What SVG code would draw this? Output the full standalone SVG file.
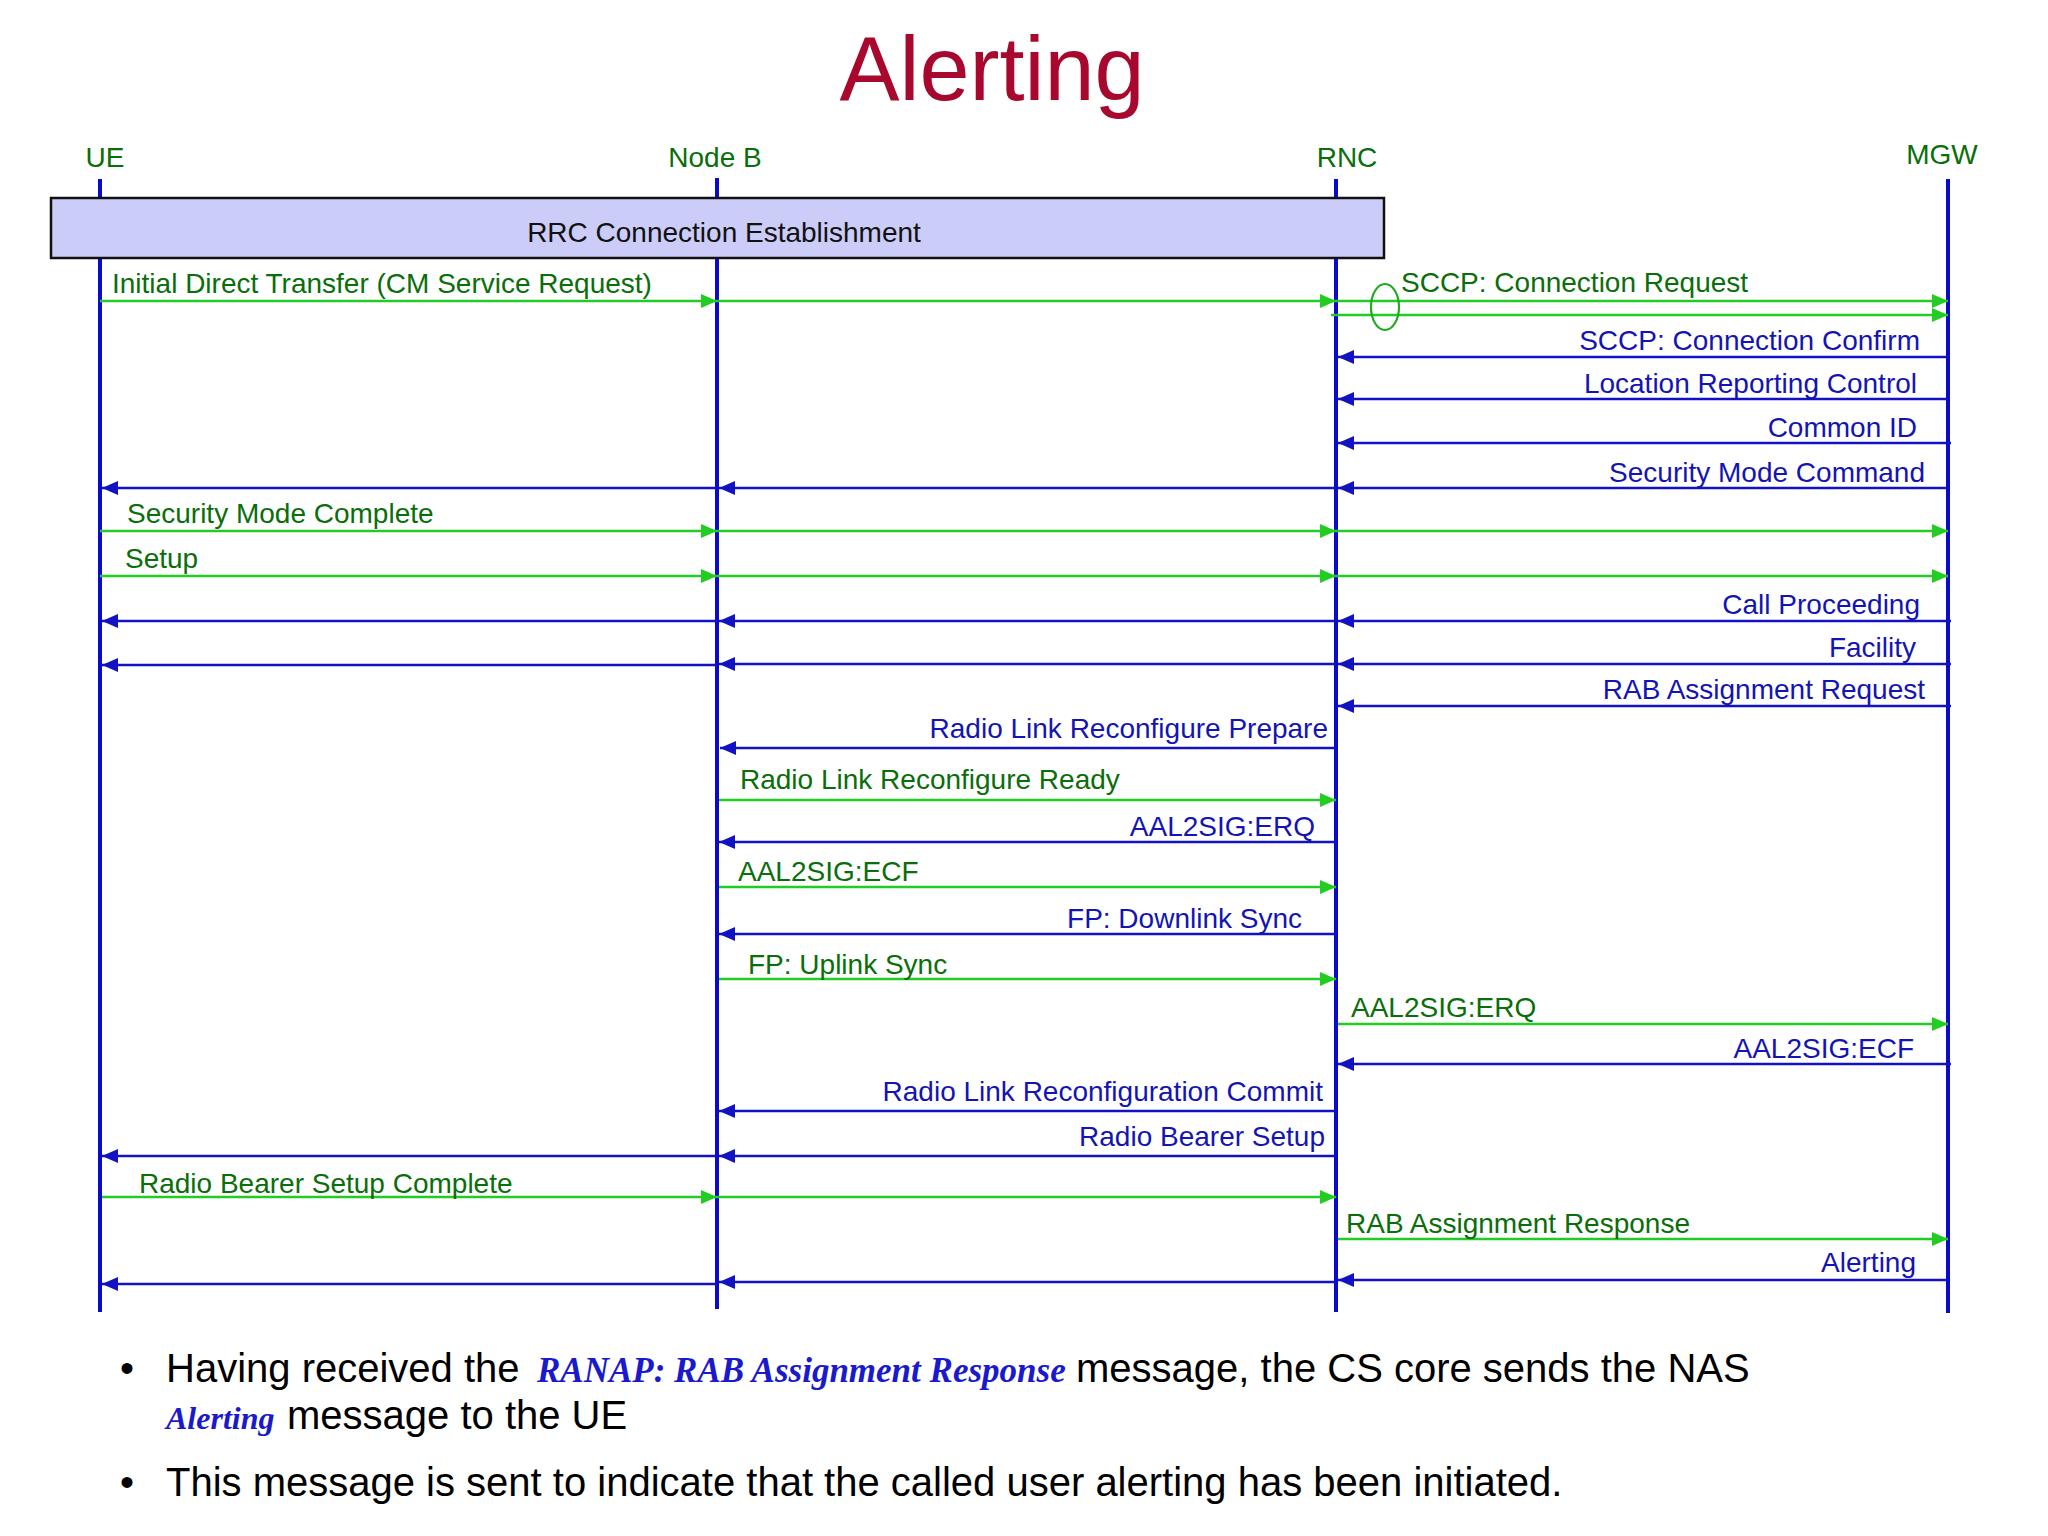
<svg xmlns="http://www.w3.org/2000/svg" width="2048" height="1536" viewBox="0 0 2048 1536">
<style>
text{font-family:"Liberation Sans",Arial,sans-serif}
.title{font-size:90px;fill:#A8082E;text-anchor:middle}
.ll{font-size:28px;fill:#0A6E0A;text-anchor:middle}
.life{stroke:#0A0ACC;stroke-width:4}
.g{stroke:#22CC22;stroke-width:2.6;fill:none;marker-end:url(#ag)}
.b{stroke:#1212C4;stroke-width:2.6;fill:none;marker-end:url(#ab)}
.gt{font-size:28px;fill:#0A6E0A}
.bt{font-size:28px;fill:#1414B4;text-anchor:end}
.body{font-size:40px;fill:#000}
.fancy{font-family:"Liberation Serif","Times New Roman",serif;font-style:italic;font-weight:bold;font-size:35px;fill:#1A1ACC}
</style>
<defs>
<marker id="ag" viewBox="0 0 16 16" markerUnits="userSpaceOnUse" markerWidth="16" markerHeight="16" refX="16" refY="8" orient="auto"><path d="M0,1 L16,8 L0,15 z" fill="#22CC22"/></marker>
<marker id="ab" viewBox="0 0 16 16" markerUnits="userSpaceOnUse" markerWidth="16" markerHeight="16" refX="16" refY="8" orient="auto"><path d="M0,1 L16,8 L0,15 z" fill="#1212C4"/></marker>
</defs>
<rect width="2048" height="1536" fill="#FFFFFF"/>
<text class="title" x="992" y="100">Alerting</text>

<g id="UE"><text class="ll" x="105" y="167">UE</text><line class="life" x1="100" y1="179" x2="100" y2="1312"/></g>
<g id="NodeB"><text class="ll" x="715" y="167">Node B</text><line class="life" x1="717" y1="178" x2="717" y2="1309"/></g>
<g id="RNC"><text class="ll" x="1347" y="167">RNC</text><line class="life" x1="1336" y1="179" x2="1336" y2="1312"/></g>
<g id="MGW"><text class="ll" x="1942" y="164">MGW</text><line class="life" x1="1948" y1="179" x2="1948" y2="1313"/></g>

<g id="RRC"><rect x="51" y="198" width="1333" height="60" fill="#CCCCF8" stroke="#111" stroke-width="2.5"/><text x="724" y="242" font-size="28" fill="#111" text-anchor="middle">RRC Connection Establishment</text></g>

<g id="connectors">
<line class="g" x1="100" y1="301" x2="717" y2="301"/>
<line class="g" x1="717" y1="301" x2="1336" y2="301"/>
<line class="g" x1="1336" y1="301" x2="1948" y2="301"/>
<line class="g" x1="1331" y1="315" x2="1948" y2="315"/>
<ellipse cx="1385" cy="307" rx="14" ry="23" fill="none" stroke="#22AA22" stroke-width="2.2"/>

<line class="b" x1="1948" y1="357" x2="1338" y2="357"/>
<line class="b" x1="1948" y1="399" x2="1338" y2="399"/>
<line class="b" x1="1951" y1="443" x2="1338" y2="443"/>
<line class="b" x1="1948" y1="488" x2="1338" y2="488"/>
<line class="b" x1="1336" y1="488" x2="719" y2="488"/>
<line class="b" x1="717" y1="488" x2="102" y2="488"/>

<line class="g" x1="100" y1="531" x2="717" y2="531"/>
<line class="g" x1="717" y1="531" x2="1336" y2="531"/>
<line class="g" x1="1336" y1="531" x2="1948" y2="531"/>
<line class="g" x1="100" y1="576" x2="717" y2="576"/>
<line class="g" x1="717" y1="576" x2="1336" y2="576"/>
<line class="g" x1="1336" y1="576" x2="1948" y2="576"/>

<line class="b" x1="1951" y1="621" x2="1338" y2="621"/>
<line class="b" x1="1336" y1="621" x2="719" y2="621"/>
<line class="b" x1="717" y1="621" x2="102" y2="621"/>
<line class="b" x1="1951" y1="664" x2="1338" y2="664"/>
<line class="b" x1="1336" y1="664" x2="719" y2="664"/>
<line class="b" x1="717" y1="665" x2="102" y2="665"/>
<line class="b" x1="1951" y1="706" x2="1338" y2="706"/>

<line class="b" x1="1336" y1="748" x2="720" y2="748"/>
<line class="g" x1="719" y1="800" x2="1336" y2="800"/>
<line class="b" x1="1336" y1="842" x2="719" y2="842"/>
<line class="g" x1="719" y1="887" x2="1336" y2="887"/>
<line class="b" x1="1336" y1="934" x2="719" y2="934"/>
<line class="g" x1="719" y1="979" x2="1336" y2="979"/>
<line class="g" x1="1338" y1="1024" x2="1948" y2="1024"/>
<line class="b" x1="1951" y1="1064" x2="1338" y2="1064"/>
<line class="b" x1="1336" y1="1111" x2="719" y2="1111"/>
<line class="b" x1="1336" y1="1156" x2="719" y2="1156"/>
<line class="b" x1="717" y1="1156" x2="102" y2="1156"/>
<line class="g" x1="102" y1="1197" x2="717" y2="1197"/>
<line class="g" x1="717" y1="1197" x2="1336" y2="1197"/>
<line class="g" x1="1338" y1="1239" x2="1948" y2="1239"/>
<line class="b" x1="1948" y1="1280" x2="1338" y2="1280"/>
<line class="b" x1="1336" y1="1282" x2="719" y2="1282"/>
<line class="b" x1="717" y1="1284" x2="102" y2="1284"/>
</g>

<g id="labels">
<text class="gt" x="112" y="293">Initial Direct Transfer (CM Service Request)</text>
<text class="gt" x="1401" y="292">SCCP: Connection Request</text>
<text class="bt" x="1920" y="350">SCCP: Connection Confirm</text>
<text class="bt" x="1917" y="393">Location Reporting Control</text>
<text class="bt" x="1917" y="437">Common ID</text>
<text class="bt" x="1925" y="482">Security Mode Command</text>
<text class="gt" x="127" y="523">Security Mode Complete</text>
<text class="gt" x="125" y="568">Setup</text>
<text class="bt" x="1920" y="614">Call Proceeding</text>
<text class="bt" x="1916" y="657">Facility</text>
<text class="bt" x="1925" y="699">RAB Assignment Request</text>
<text class="bt" x="1328" y="738">Radio Link Reconfigure Prepare</text>
<text class="gt" x="740" y="789">Radio Link Reconfigure Ready</text>
<text class="bt" x="1315" y="836">AAL2SIG:ERQ</text>
<text class="gt" x="738" y="881">AAL2SIG:ECF</text>
<text class="bt" x="1302" y="928">FP: Downlink Sync</text>
<text class="gt" x="748" y="974">FP: Uplink Sync</text>
<text class="gt" x="1351" y="1017">AAL2SIG:ERQ</text>
<text class="bt" x="1914" y="1058">AAL2SIG:ECF</text>
<text class="bt" x="1323" y="1101">Radio Link Reconfiguration Commit</text>
<text class="bt" x="1325" y="1146">Radio Bearer Setup</text>
<text class="gt" x="139" y="1193">Radio Bearer Setup Complete</text>
<text class="gt" x="1346" y="1233">RAB Assignment Response</text>
<text class="bt" x="1916" y="1272">Alerting</text>
</g>

<g id="notes">
<text class="body" x="120" y="1382">•</text>
<text class="body" x="166" y="1382">Having received the</text>
<text class="fancy" x="537" y="1382">RANAP: RAB Assignment Response</text>
<text class="body" x="1076" y="1382">message, the CS core sends the NAS</text>
<text class="fancy" x="166" y="1429" style="font-size:32px">Alerting</text>
<text class="body" x="287" y="1429">message to the UE</text>
<text class="body" x="120" y="1496">•</text>
<text class="body" x="166" y="1496">This message is sent to indicate that the called user alerting has been initiated.</text>
</g>
</svg>
